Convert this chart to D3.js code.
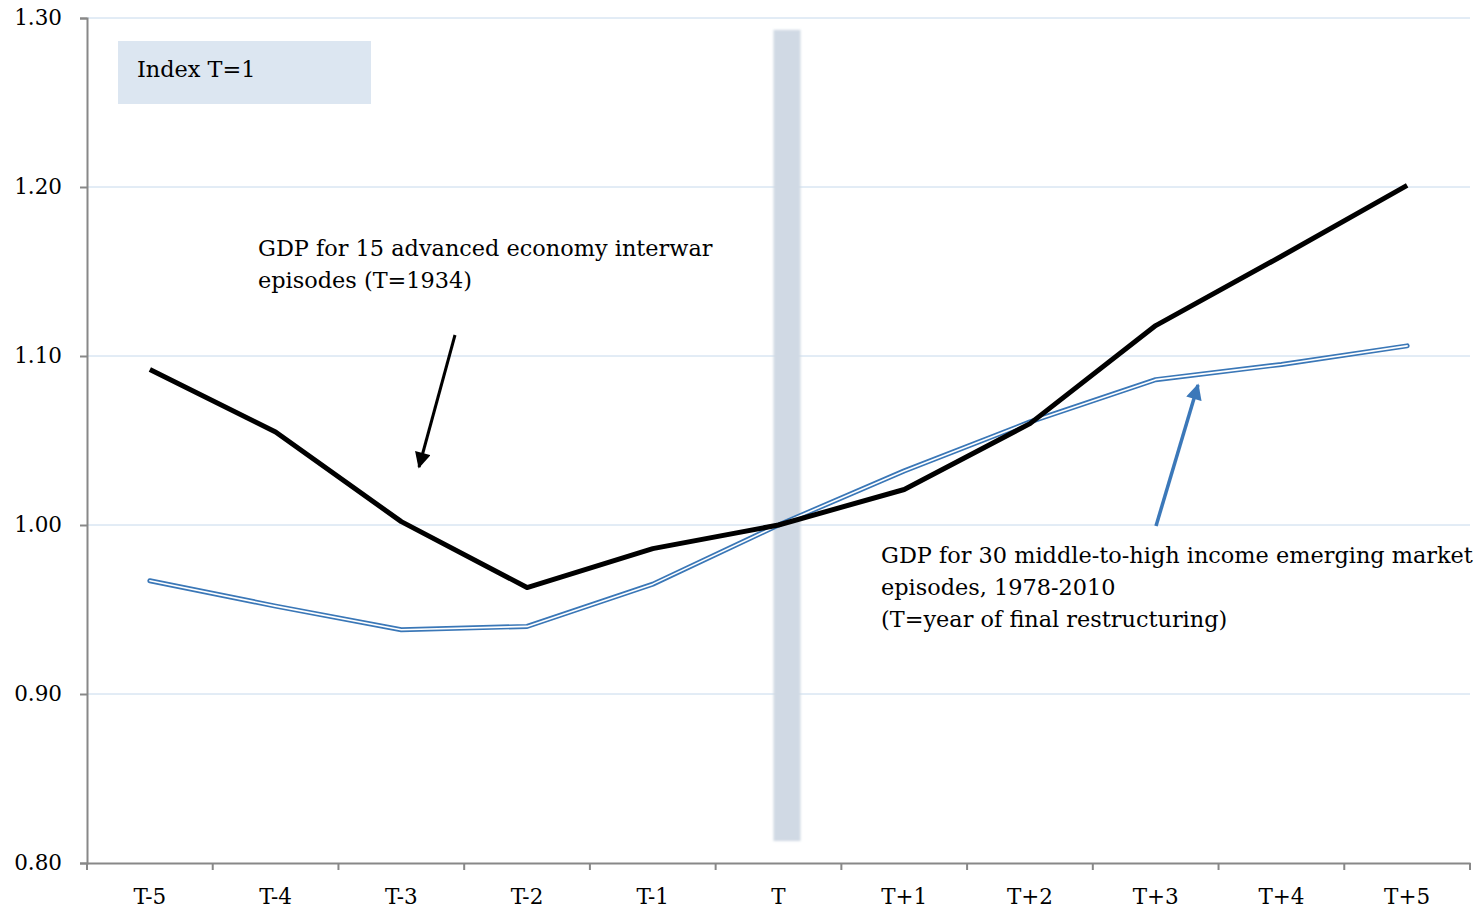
<!DOCTYPE html>
<html>
<head>
<meta charset="utf-8">
<script src="https://cdn.jsdelivr.net/npm/d3@7"></script>
<style>
  body { margin: 0; background: #fff; }
  text { font-family: "DejaVu Serif", serif; }
</style>
</head>
<body>
<svg width="1480" height="910"></svg>
<script>
var svg = d3.select("svg");
var margin = {top: 18, right: 10, bottom: 47, left: 87};
var width = 1480 - margin.left - margin.right;
var height = 910 - margin.top - margin.bottom;
var fontSize = "22.4px";

var periods = ["T-5", "T-4", "T-3", "T-2", "T-1", "T", "T+1", "T+2", "T+3", "T+4", "T+5"];
var interwar = [1.092, 1.055, 1.002, 0.963, 0.986, 1.000, 1.021, 1.060, 1.118, 1.159, 1.201];
var emerging = [0.967, 0.952, 0.938, 0.940, 0.965, 1.000, 1.032, 1.061, 1.086, 1.095, 1.106];
var yTicks = [0.80, 0.90, 1.00, 1.10, 1.20, 1.30];

var x = d3.scaleBand().domain(periods).range([0, width]);
var y = d3.scaleLinear().domain([0.80, 1.30]).range([height, 0]);
var cx = function(d) { return x(d) + x.bandwidth() / 2; };

var g = svg.append("g")
    .attr("transform", "translate(" + margin.left + "," + margin.top + ")");

var defs = svg.append("defs");
var blur = defs.append("filter").attr("id", "soft")
    .attr("x", "-50%").attr("y", "-5%").attr("width", "200%").attr("height", "110%");
blur.append("feGaussianBlur").attr("stdDeviation", 1.2);

function arrowHead(id, color) {
  defs.append("marker")
      .attr("id", id)
      .attr("viewBox", "0 0 10 10")
      .attr("refX", 9).attr("refY", 5)
      .attr("markerUnits", "userSpaceOnUse")
      .attr("markerWidth", 17).attr("markerHeight", 16)
      .attr("orient", "auto")
    .append("path")
      .attr("d", "M0,0L10,5L0,10Z")
      .attr("fill", color);
}
arrowHead("headBlack", "#000");
arrowHead("headBlue", "#3b78b9");

// gridlines
g.append("g").selectAll("line")
    .data(yTicks.slice(1))
  .enter().append("line")
    .attr("x1", 0).attr("x2", width)
    .attr("y1", function(d) { return y(d); })
    .attr("y2", function(d) { return y(d); })
    .attr("stroke", "#c6d9ec")
    .attr("stroke-width", 1);

// shaded band at T (sits a little right of the T centre)
g.append("rect")
    .attr("x", cx("T") - 5)
    .attr("y", y(1.293))
    .attr("width", 27)
    .attr("height", y(0.813) - y(1.293))
    .attr("fill", "#d0d9e4")
    .attr("filter", "url(#soft)");

// axes
var yAxis = g.append("g")
    .call(d3.axisLeft(y).tickValues(yTicks).tickFormat(d3.format(".2f")).tickSize(7).tickPadding(18));
var xAxis = g.append("g")
    .attr("transform", "translate(0," + height + ")")
    .call(d3.axisBottom(x).tickSize(0).tickPadding(26));

xAxis.selectAll(".tick text").attr("dy", "0.71em");
xAxis.append("g").selectAll("line")
    .data(d3.range(periods.length + 1))
  .enter().append("line")
    .attr("x1", function(i) { return i * x.step(); })
    .attr("x2", function(i) { return i * x.step(); })
    .attr("y1", 0).attr("y2", 7)
    .attr("stroke", "#888").attr("stroke-width", 2);

[yAxis, xAxis].forEach(function(a) {
  a.select(".domain").attr("stroke", "#888").attr("stroke-width", 2);
  a.selectAll(".tick line").attr("stroke", "#888").attr("stroke-width", 2);
  a.selectAll(".tick text")
      .attr("fill", "#000")
      .style("font-size", "21.5px")
      .style("font-family", "'DejaVu Serif', serif");
});

var line = d3.line()
    .x(function(d, i) { return cx(periods[i]); })
    .y(function(d) { return y(d); });

// emerging market series: double blue line
g.append("path")
    .datum(emerging)
    .attr("d", line)
    .attr("fill", "none")
    .attr("stroke", "#3a77b7")
    .attr("stroke-width", 5)
    .attr("stroke-linejoin", "round")
    .attr("stroke-linecap", "round");
g.append("path")
    .datum(emerging)
    .attr("d", line)
    .attr("fill", "none")
    .attr("stroke", "#fff")
    .attr("stroke-width", 1.6)
    .attr("stroke-linejoin", "round")
    .attr("stroke-linecap", "round");

// interwar series
g.append("path")
    .datum(interwar)
    .attr("d", line)
    .attr("fill", "none")
    .attr("stroke", "#000")
    .attr("stroke-width", 5)
    .attr("stroke-linejoin", "round");

// index label box
svg.append("rect")
    .attr("x", 118).attr("y", 41)
    .attr("width", 253).attr("height", 63)
    .attr("fill", "#dce6f1");
svg.append("text")
    .attr("x", 137).attr("y", 77)
    .style("font-size", fontSize)
    .text("Index T=1");

// annotations
var noteBlack = ["GDP for 15 advanced economy interwar", "episodes (T=1934)"];
var noteBlue = ["GDP for 30 middle-to-high income emerging market", "episodes, 1978-2010", "(T=year of final restructuring)"];

svg.append("text")
    .attr("x", 258).attr("y", 256)
    .style("font-size", fontSize)
  .selectAll("tspan").data(noteBlack).enter().append("tspan")
    .attr("x", 258)
    .attr("dy", function(d, i) { return i ? 32 : 0; })
    .text(function(d) { return d; });

svg.append("text")
    .attr("x", 881).attr("y", 563)
    .style("font-size", fontSize)
  .selectAll("tspan").data(noteBlue).enter().append("tspan")
    .attr("x", 881)
    .attr("dy", function(d, i) { return i ? 32 : 0; })
    .text(function(d) { return d; });

svg.append("line")
    .attr("x1", 455).attr("y1", 335)
    .attr("x2", 419).attr("y2", 467)
    .attr("stroke", "#000").attr("stroke-width", 3)
    .attr("marker-end", "url(#headBlack)");

svg.append("line")
    .attr("x1", 1156).attr("y1", 526)
    .attr("x2", 1198).attr("y2", 385)
    .attr("stroke", "#3b78b9").attr("stroke-width", 3.5)
    .attr("marker-end", "url(#headBlue)");
</script>
</body>
</html>
